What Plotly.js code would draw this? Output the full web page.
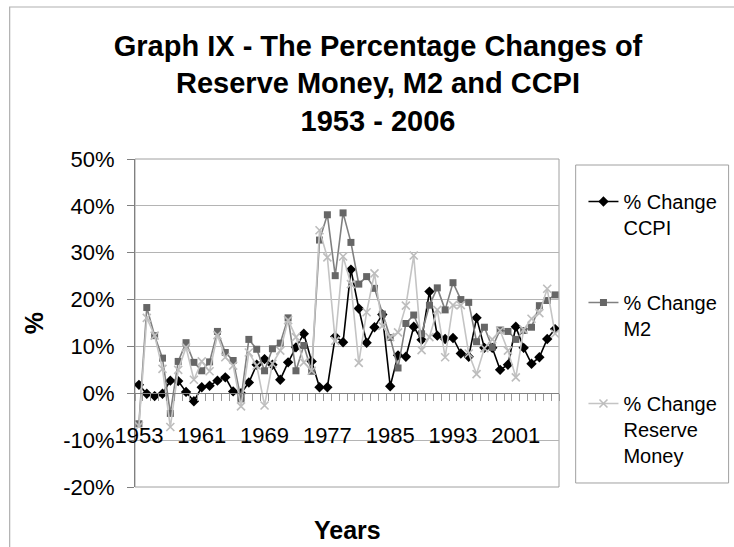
<!DOCTYPE html>
<html><head><meta charset="utf-8">
<script src="https://cdn.plot.ly/plotly-3.0.1.min.js"></script>
<style>html,body{margin:0;padding:0;background:#fff;overflow:hidden}</style>
</head><body><div id="chart" style="width:734px;height:547px"></div>
<script>
const years = [1953,1954,1955,1956,1957,1958,1959,1960,1961,1962,1963,1964,1965,1966,1967,1968,1969,1970,1971,1972,1973,1974,1975,1976,1977,1978,1979,1980,1981,1982,1983,1984,1985,1986,1987,1988,1989,1990,1991,1992,1993,1994,1995,1996,1997,1998,1999,2000,2001,2002,2003,2004,2005,2006];
const ccpi = [1.8,-0.1,-0.6,-0.1,2.7,2.6,0.3,-1.7,1.3,1.6,2.7,3.4,0.4,0.0,2.3,6.1,7.3,6.1,2.9,6.6,9.8,12.7,6.8,1.3,1.3,12.1,10.9,26.4,18.1,10.8,14.1,16.8,1.5,8.1,7.8,14.2,11.4,21.7,12.3,11.6,11.8,8.5,7.8,16.1,9.7,9.7,5.0,6.1,14.2,9.7,6.3,7.7,11.6,13.7];
const m2 = [-6.5,18.3,12.3,7.5,-4.3,6.8,10.8,6.6,4.8,6.7,13.2,8.7,7.0,-1.2,11.5,9.4,4.8,9.5,10.7,16.1,4.8,10.2,4.7,32.7,38.1,25.1,38.5,32.2,23.3,24.9,22.4,16.9,11.9,5.4,14.9,16.7,12.7,18.8,22.5,17.8,23.6,20.0,19.4,11.0,14.1,9.8,13.5,13.2,11.5,13.4,14.1,18.7,19.8,21.0];
const reserveMoney = [-7.0,16.1,12.3,5.2,-7.2,5.0,9.8,2.9,6.8,4.7,12.4,7.7,5.9,-2.8,8.7,5.9,-2.6,6.3,9.1,15.6,12.0,6.6,4.8,34.8,29.0,11.2,29.2,23.3,6.5,17.3,25.6,14.4,12.0,13.0,18.7,29.4,9.2,12.0,17.8,7.7,18.8,18.8,8.5,4.1,9.6,11.5,13.4,9.1,3.4,13.6,15.9,17.1,22.3,12.7];
const seriesNames = ['% Change<br>CCPI','% Change<br>M2','% Change<br>Reserve<br>Money'];
const xTickYears = [1953,1961,1969,1977,1985,1993,2001];
const yTicks = [-20,-10,0,10,20,30,40,50];
const yTickLabels = ['-20%','-10%','0%','10%','20%','30%','40%','50%'];

const FONT = 'Liberation Sans, Arial, Helvetica, sans-serif';
const traces = [
  {x: years, y: ccpi, name: seriesNames[0], type:'scatter', mode:'lines+markers', legendgroup:'a',
   line:{color:'#000000', width:1.6}, marker:{symbol:'diamond', size:8, color:'#000000'}},
  {x: years, y: m2, name: seriesNames[1], type:'scatter', mode:'lines+markers', legendgroup:'b',
   line:{color:'#808080', width:1.6}, marker:{symbol:'square', size:7, color:'#666666'}},
  {x: years, y: reserveMoney, name: seriesNames[2], type:'scatter', mode:'lines+markers', legendgroup:'c',
   line:{color:'#c4c4c4', width:1.6}, marker:{symbol:'x-thin', size:8, color:'#bdbdbd', line:{width:1.6, color:'#bdbdbd'}}}
];

const layout = {
  width:734, height:547,
  margin:{l:135, r:166, t:159, b:60},
  paper_bgcolor:'#ffffff', plot_bgcolor:'#ffffff',
  font:{family:FONT, color:'#000000', size:20},
  showlegend:true,
  title:{text:'<b>Graph IX - The Percentage Changes of<br>Reserve Money, M2 and CCPI<br>1953 - 2006</b>',
    font:{family:FONT, size:29, color:'#000'}, xref:'container', x:0.515, xanchor:'center',
    yref:'container', y:0.898, yanchor:'top'},
  xaxis:{range:[1952.5,2006.5], tickmode:'array', tickvals:xTickYears, ticktext:xTickYears.map(String),
    ticks:'', showline:true, linecolor:'#808080', linewidth:1, anchor:'free', position:20/70,
    showgrid:false, zeroline:false, tickfont:{family:FONT, size:22, color:'#000'}, ticklabelstandoff:22,
    minor:{tick0:1952.5, dtick:1, ticks:'outside', ticklen:7, tickcolor:'#999999', tickwidth:1, showgrid:false}},
  yaxis:{range:[-20,50], tickmode:'array', tickvals:yTicks, ticktext:yTickLabels,
    ticks:'outside', ticklen:7, tickcolor:'#808080', showline:true, linecolor:'#808080', linewidth:1,
    gridcolor:'#b4b4b4', gridwidth:1, zeroline:false, tickfont:{family:FONT, size:22, color:'#000'},
    ticklabelstandoff:8,
    title:{text:'<b>%</b>', font:{family:FONT, size:25, color:'#000'}, standoff:12}},
  legend:{x:1.0577, xanchor:'left', y:0.93, yanchor:'top', bgcolor:'rgba(0,0,0,0)', borderwidth:0,
    font:{family:FONT, size:20, color:'#000'}, valign:'top', tracegroupgap:46, traceorder:'grouped'},
  annotations:[{text:'<b>Years</b>', xref:'paper', yref:'paper', x:0.5, y:-0.131, xanchor:'center', yanchor:'middle',
    showarrow:false, font:{family:FONT, size:25, color:'#000'}}],
  shapes:[
    {type:'rect', xref:'paper', yref:'paper', x0:0, x1:1, y0:0, y1:1, line:{color:'#a0a0a0', width:1}, layer:'below'},
    {type:'rect', xref:'paper', yref:'paper', x0:1.0393, x1:1.40, y0:0.0122, y1:0.9817, line:{color:'#a0a0a0', width:1}},
    {type:'rect', xref:'paper', yref:'paper', x0:-0.2956, x1:1.7, y0:-0.6, y1:1.4634, line:{color:'#b0b0b0', width:1.2}}
  ]
};
Plotly.newPlot('chart', traces, layout, {displayModeBar:false, staticPlot:true});
</script></body></html>
